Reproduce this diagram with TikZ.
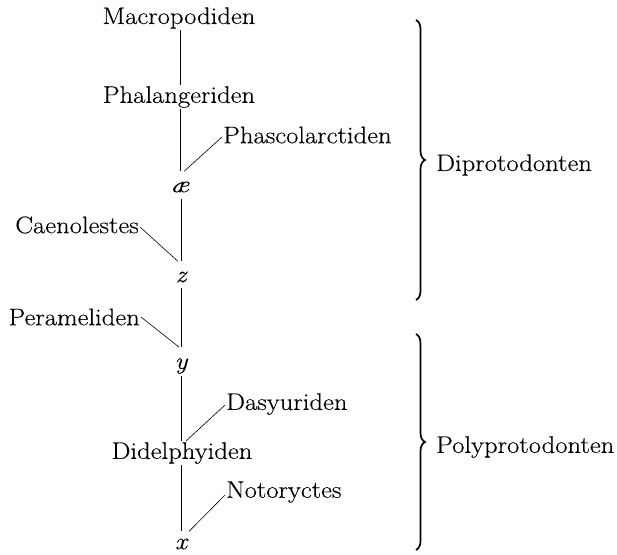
\documentclass[tikz,border=0pt]{standalone}
\usepackage{fontspec}
\setmainfont{Latin Modern Roman}[FakeStretch=1.11, FakeBold=0.3]
\usetikzlibrary{decorations.pathreplacing}
\begin{document}
\begin{tikzpicture}[x=1pt,y=-1pt,
  lbl/.style={font=\fontsize{24}{28}\selectfont, inner sep=1pt},
  var/.style={font=\fontsize{24}{28}\selectfont\itshape, inner sep=1pt},
  conn/.style={line width=0.6pt},
  brc/.style={line width=1.7pt, decorate, decoration={brace, amplitude=9pt}}]
\useasboundingbox (0,0) rectangle (617,554);
% main stem
\node[lbl] (mac) at (179,18) {Macropodiden};
\node[lbl] (pha) at (179,97) {Phalangeriden};
\node[var] (ae) at (180,187) {\ae};
\node[var] (z) at (181,277) {z};
\node[var] (y) at (181,366) {y};
\node[lbl] (did) at (182,453) {Didelphyiden};
\node[var] (x) at (181,544) {x};
% side branches
\node[lbl, anchor=west] (phas) at (222,135) {Phascolarctiden};
\node[lbl, anchor=east] (cae) at (140,225) {Caenolestes};
\node[lbl, anchor=east] (per) at (141,317) {Perameliden};
\node[lbl, anchor=west] (das) at (225,404) {Dasyuriden};
\node[lbl, anchor=west] (not) at (225,492) {Notoryctes};
% vertical connectors
\draw[conn] (mac.south -| 180,0) -- (pha.north -| 180,0);
\draw[conn] (pha.south -| 180,0) -- ([yshift=9pt]ae.north -| 180,0);
\draw[conn] ([yshift=-5pt]ae.south -| 181,0) -- ([yshift=9pt]z.north -| 181,0);
\draw[conn] ([yshift=-4pt]z.south -| 181,0) -- ([yshift=10pt]y.north -| 181,0);
\draw[conn] ([yshift=-1pt]y.south -| 181,0) -- (did.north -| 181,0);
\draw[conn] (did.south -| 181,0) -- ([yshift=6pt]x.north -| 181,0);
% diagonal connectors
\draw[conn] ([yshift=-2pt]phas.west) -- ([xshift=4pt,yshift=9pt]ae.north);
\draw[conn] ([yshift=-2pt]cae.east) -- ([xshift=-3pt,yshift=9pt]z.north);
\draw[conn] ([yshift=0pt]per.east) -- ([xshift=-2pt,yshift=10pt]y.north);
\draw[conn] ([yshift=-1pt]das.west) -- ([xshift=4pt]did.north);
\draw[conn] ([yshift=-3pt]not.west) -- ([xshift=8pt,yshift=6pt]x.north);
% braces
\draw[brc] (416,20) -- (416,300);
\draw[brc] (416,334) -- (416,550);
\node[lbl, anchor=west] (dip) at (435,165) {Diprotodonten};
\node[lbl, anchor=west] (pol) at (435,447) {Polyprotodonten};
\end{tikzpicture}
\end{document}
